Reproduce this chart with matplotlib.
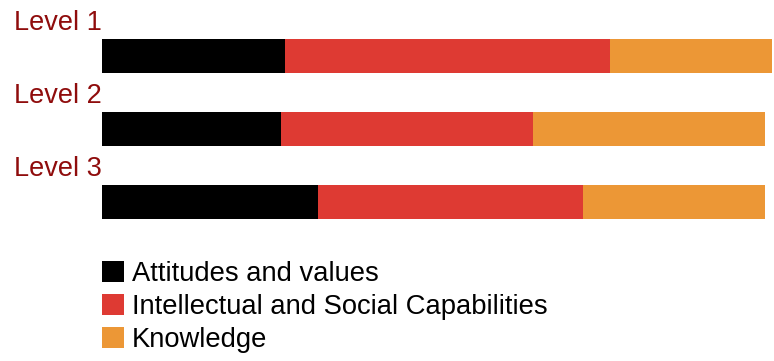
import matplotlib.pyplot as plt
from matplotlib.patches import Patch

plt.rcParams['font.family'] = ['Liberation Sans', 'DejaVu Sans']

levels = ['Level 1', 'Level 2', 'Level 3']
series = ['Attitudes and values', 'Intellectual and Social Capabilities', 'Knowledge']
attitudes = [27.3, 26.7, 32.2]
capabilities = [48.5, 37.6, 39.6]
knowledge = [24.2, 34.6, 27.2]

colors = ['#000000', '#de3a33', '#ec9736']
label_color = '#8f0c0c'

W, H = 774, 361
fig = plt.figure(figsize=(W / 100, H / 100), dpi=100)
ax = fig.add_axes([0, 0, 1, 1])

# axes spans the whole figure; limits chosen so bars start at the left margin
px_per_unit = 6.7
x0 = 102
ax.set_xlim(-x0 / px_per_unit, (W - x0) / px_per_unit)
row_px, first_px = 73, 56
ax.set_ylim((H - first_px) / row_px, -first_px / row_px)

ys = list(range(len(levels)))
left = [0] * len(levels)
for vals, name, c in zip([attitudes, capabilities, knowledge], series, colors):
    ax.barh(ys, vals, left=left, height=34 / row_px, color=c, label=name, linewidth=0)
    left = [l + v for l, v in zip(left, vals)]

for y, name in zip(ys, levels):
    ax.text(-(x0 - 14) / px_per_unit, y - 26 / row_px, name, color=label_color,
            fontsize=19.5, va='baseline', ha='left')

handles = [Patch(facecolor=c, edgecolor='none') for c in colors]
ax.legend(handles, series, loc='upper left', bbox_to_anchor=(102 / W, 1 - 261 / H),
          bbox_transform=fig.transFigure, frameon=False, fontsize=19.7,
          handlelength=0.8, handleheight=0.8, handletextpad=0.29,
          labelspacing=0.26, borderpad=0, borderaxespad=0)

ax.axis('off')
fig.savefig('out.png', dpi=100)
